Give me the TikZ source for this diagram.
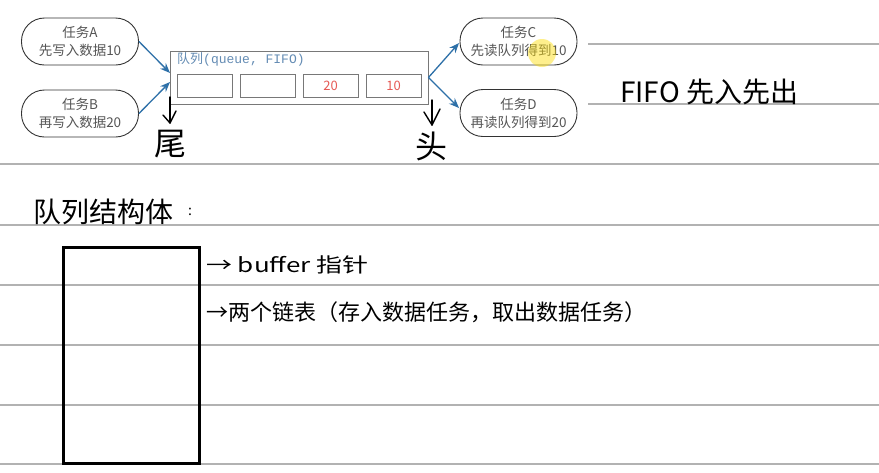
\documentclass[tikz,border=0pt]{standalone}
\usepackage{fontspec}
\setmainfont{Noto Sans CJK SC}
\newfontfamily\cjk{Noto Sans CJK SC}
\newfontfamily\monof{Liberation Mono}
\usetikzlibrary{arrows.meta}
\definecolor{ruleg}{RGB}{178,178,178}
\definecolor{txtg}{RGB}{85,85,85}
\definecolor{arrb}{RGB}{46,112,168}
\definecolor{qlab}{RGB}{100,140,180}
\definecolor{numred}{RGB}{230,90,85}
\definecolor{boxg}{RGB}{120,120,120}
\tikzset{
  task/.style={draw=black!80, line width=0.9pt, rounded corners=23pt, minimum width=117pt, minimum height=47pt, align=center, text=txtg, font=\cjk\fontsize{13.5}{18}\selectfont, inner sep=0pt},
  cell/.style={draw=boxg, line width=0.9pt, minimum width=55pt, minimum height=23pt, inner sep=0pt, text=numred, font=\cjk\fontsize{13}{15}\selectfont},
  flow/.style={draw=arrb, line width=1.3pt, -{Stealth[length=10pt,width=8pt]}},
  hand/.style={text=black, inner sep=0pt},
  handline/.style={draw=black, line width=1.4pt, line cap=round, line join=round},
  rule/.style={draw=ruleg, line width=1.2pt}
}
\begin{document}
\begin{tikzpicture}[x=1pt,y=-1pt]
\useasboundingbox (0,0) rectangle (879,472);
\fill[white] (0,0) rectangle (879,472);
% ruled lines
\draw[rule] (588,44) -- (879,44);
\draw[rule] (588,104) -- (879,104);
\foreach \yy in {164,225,285,345,405,464} \draw[rule] (0,\yy) -- (879,\yy);
% tasks
\node[task] (A) at (80,41.5) {任务A\\先写入数据10};
\node[task] (B) at (80,113.5) {任务B\\再写入数据20};
\node[task] (C) at (518.5,41.5) {任务C\\先读队列得到10};
\node[task] (D) at (518.5,113) {任务D\\再读队列得到20};
% queue
\node[draw=boxg, line width=0.9pt, minimum width=258pt, minimum height=53pt, inner sep=0pt] (Q) at (299,77.5) {};
\node[anchor=west, inner sep=0pt, text=qlab, font=\fontsize{13}{15}\selectfont] (QL) at (177,59) {\cjk 队列\monof (queue, FIFO)};
\node[cell] (c1) at (204.5,85.5) {};
\node[cell] (c2) at (267.5,85.5) {};
\node[cell] (c3) at (330.5,85.5) {20};
\node[cell] (c4) at (393.5,85.5) {10};
\coordinate (qa) at (170,73);
\coordinate (qb) at (170,82);
\coordinate (qc) at (459,43);
\coordinate (qd) at (459,108);
\draw[flow] (A.east) -- (qa);
\draw[flow] (B.east) -- (qb);
\draw[flow] (Q.east) -- (qc);
\draw[flow] (Q.east) -- (qd);
% cursor highlight
\fill[yellow!80!orange, opacity=0.45] (542,53) circle (14);
% handwritten
\node[hand, font=\cjk\fontsize{32}{34}\selectfont] (wei) at (170,144) {尾};
\node[hand, font=\cjk\fontsize{32}{34}\selectfont] (tou) at (431,146) {头};
\coordinate (qsw) at (170,97);
\coordinate (qse) at (432,100);
\coordinate (weitip) at (170,123);
\coordinate (toutip) at (432,125);
\draw[handline] (qsw) -- (weitip);
\draw[handline] ([shift={(-7,-8)}]weitip) -- (weitip) -- ([shift={(6,-12)}]weitip);
\draw[handline] (qse) -- (toutip);
\draw[handline] ([shift={(-8,-13)}]toutip) -- (toutip) -- ([shift={(8,-16)}]toutip);
\node[hand, anchor=west, font=\cjk\fontsize{28}{30}\selectfont] (fifo) at (620,92) {FIFO\ 先入先出};
\node[hand, anchor=west, font=\cjk\fontsize{28}{30}\selectfont] (title) at (33,212) {队列结构体};
\node[hand, font=\cjk\fontsize{14}{16}\selectfont] (colon) at (190,212) {:};
\draw[black, line width=3pt] (63,247) rectangle (199,463);
\node[hand, anchor=west, font=\cjk\fontsize{20}{22}\selectfont] (t1) at (206,265) {\scalebox{1.3}[1]{→ buffer 指针}};
\node[hand, anchor=west, font=\cjk\fontsize{22}{24}\selectfont] (t2) at (206,312) {→两个链表（存入数据任务，取出数据任务）};
\end{tikzpicture}
\end{document}
